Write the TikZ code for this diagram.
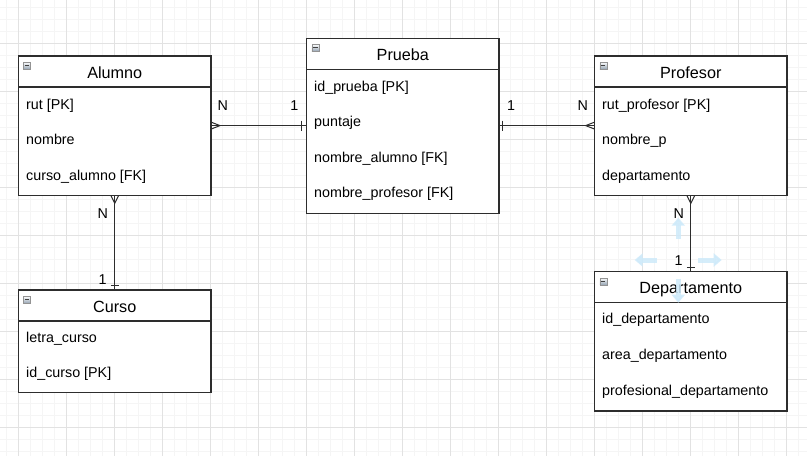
\documentclass[tikz,border=0pt]{standalone}
\usepackage{fontspec}
\setmainfont{Liberation Sans}
\usepackage{xcolor}
\usetikzlibrary{arrows.meta}

\definecolor{gridmajor}{RGB}{226,226,226}
\definecolor{gridminor}{RGB}{245,245,245}
\definecolor{boxline}{RGB}{45,45,45}
\definecolor{hoverblue}{RGB}{206,234,250}
\definecolor{iconfill}{RGB}{150,165,180}

\tikzset{
    entity/.style={draw=boxline, line width=1.2pt, fill=white, inner sep=0pt, outer sep=0pt},
    title/.style={inner sep=0pt, text height=11.5pt, text depth=0pt, font=\fontsize{16.2}{19}\selectfont},
    attr/.style={anchor=west, inner sep=0pt, text height=10pt, text depth=3pt, yshift=-1.2pt, font=\fontsize{14.3}{17}\selectfont},
    card/.style={inner sep=0pt, font=\fontsize{14.3}{17}\selectfont},
    rel/.style={draw=boxline, line width=1pt},
    minus/.style={draw=gray!85, line width=0.5pt, minimum size=7pt, inner sep=0pt,
        top color=white, bottom color=iconfill,
        path picture={\draw[line width=1pt, black!75]
            ([xshift=1.3pt]path picture bounding box.west) -- ([xshift=-1.3pt]path picture bounding box.east);}},
    hoverarrow/.style={draw=hoverblue, line width=5pt, -{Triangle[width=13pt,length=8pt]}}
}

\begin{document}
\begin{tikzpicture}[x=1pt, y=-1pt]
    \useasboundingbox (0,0) rectangle (807,456);
    % background grid
    \fill[white] (0,0) rectangle (807,456);
    \foreach \x in {6,18,...,806} \draw[gridminor] (\x,0) -- (\x,456);
    \foreach \y in {7,19,...,455} \draw[gridminor] (0,\y) -- (807,\y);
    \foreach \x in {18,66,...,806} \draw[gridmajor] (\x,0) -- (\x,456);
    \foreach \y in {43,91,...,455} \draw[gridmajor] (0,\y) -- (807,\y);

    % entities
    \node[entity, minimum width=192.5pt, minimum height=139.4pt] (alumno) at (114.75,125.6) {};
    \node[entity, minimum width=192.3pt, minimum height=175pt] (prueba) at (402.85,125.6) {};
    \node[entity, minimum width=192.3pt, minimum height=139.4pt] (profesor) at (690.8,125.6) {};
    \node[entity, minimum width=192.5pt, minimum height=102.7pt] (curso) at (114.75,341.35) {};
    \node[entity, minimum width=192.3pt, minimum height=139.3pt] (departamento) at (690.8,341.35) {};

    \foreach \e in {alumno,prueba,profesor,curso,departamento}
        \draw[boxline, line width=1.2pt] ([yshift=-31pt]\e.north west) -- ([yshift=-31pt]\e.north east);

    % header icons
    \foreach \e in {alumno,prueba,profesor,curso,departamento}
        \node[minus] (\e icon) at ([shift={(8.6pt,-9.6pt)}]\e.north west) {};

    % titles
    \node[title] (alumnoT) at ([yshift=-16.5pt]alumno.north) {Alumno};
    \node[title] (pruebaT) at ([yshift=-16.5pt]prueba.north) {Prueba};
    \node[title] (profesorT) at ([yshift=-16.5pt]profesor.north) {Profesor};
    \node[title] (cursoT) at ([yshift=-16.5pt]curso.north) {Curso};
    \node[title] (departamentoT) at ([yshift=-16.5pt]departamento.north) {Departamento};

    % attributes
    \node[attr] (alumnoA) at (26,104.5) {rut [PK]};
    \node[attr] (alumnoB) at (26,140) {nombre};
    \node[attr] (alumnoC) at (26,175.7) {curso\_alumno [FK]};

    \node[attr] (pruebaA) at (314,86.3) {id\_prueba [PK]};
    \node[attr] (pruebaB) at (314,121.7) {puntaje};
    \node[attr] (pruebaC) at (314,157.3) {nombre\_alumno [FK]};
    \node[attr] (pruebaD) at (314,193) {nombre\_profesor [FK]};

    \node[attr] (profesorA) at (602,104.5) {rut\_profesor [PK]};
    \node[attr] (profesorB) at (602,140) {nombre\_p};
    \node[attr] (profesorC) at (602,175.7) {departamento};

    \node[attr] (cursoA) at (26,337.3) {letra\_curso};
    \node[attr] (cursoB) at (26,373) {id\_curso [PK]};

    \node[attr] (departamentoA) at (602,318.7) {id\_departamento};
    \node[attr] (departamentoB) at (602,355) {area\_departamento};
    \node[attr] (departamentoC) at (602,391) {profesional\_departamento};

    % Alumno -- Prueba
    \draw[rel] (alumno.east) -- (prueba.west);
    \draw[rel] (alumno.east) ++(0,-3.5) -- ++(9,3.5) -- ++(-9,3.5);
    \draw[rel] ([xshift=-5pt]prueba.west) ++(0,-5) -- ++(0,10);
    \node[card] (alumnoN) at (222.7,105.7) {N};
    \node[card] (pruebaone) at (294.3,105.7) {1};

    % Prueba -- Profesor
    \draw[rel] (prueba.east) -- (profesor.west);
    \draw[rel] ([xshift=3.5pt]prueba.east) ++(0,-5) -- ++(0,10);
    \draw[rel] (profesor.west) ++(0,-3.5) -- ++(-9,3.5) -- ++(9,3.5);
    \node[card] (pruebatwo) at (511,106) {1};
    \node[card] (profesorN) at (582.7,106) {N};

    % Alumno -- Curso
    \draw[rel] (alumno.south) -- (curso.north);
    \draw[rel] (alumno.south) ++(-4,0) -- ++(4,8) -- ++(4,-8);
    \draw[rel] ([yshift=5pt]curso.north) ++(-4,0) -- ++(8,0);
    \node[card] (cursoN) at (102.7,213.3) {N};
    \node[card] (cursoone) at (102.7,279.3) {1};

    % Profesor -- Departamento
    \draw[rel] (profesor.south) -- (departamento.north);
    \draw[rel] (profesor.south) ++(-4,0) -- ++(4,8) -- ++(4,-8);
    \draw[rel] ([yshift=4.4pt]departamento.north) ++(-4,0) -- ++(8,0);
    \node[card] (departamentoN) at (678.7,213.3) {N};
    \node[card] (departamentoone) at (678.7,260.7) {1};

    % hover arrows round the label
    \begin{scope}[opacity=0.85]
    \draw[hoverarrow] (departamentoone) ++(-0.4,-22) -- ++(0,-21);
    \draw[hoverarrow] (departamentoone) ++(-22,-0.7) -- ++(-22,0);
    \draw[hoverarrow] (departamentoone) ++(19.5,-0.7) -- ++(23.5,0);
    \draw[hoverarrow] (departamentoone) ++(-0.4,18) -- ++(0,24);
    \end{scope}
\end{tikzpicture}
\end{document}
